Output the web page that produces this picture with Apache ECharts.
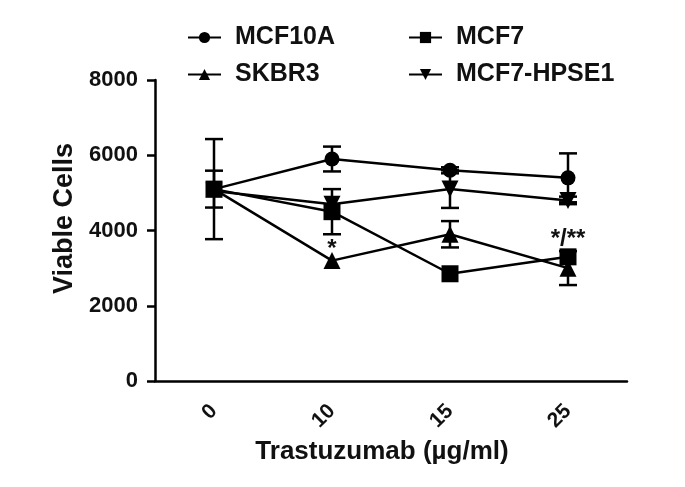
<!DOCTYPE html>
<html><head><meta charset="utf-8">
<script src="https://cdn.jsdelivr.net/npm/echarts@6/dist/echarts.min.js"></script>
<style>html,body{margin:0;padding:0;background:#fff}#c{width:685px;height:487px}</style>
</head><body><div id="c"></div>
<script>
const categories = ['0', '10', '15', '25'];
const mcf10a = [5100, 5900, 5600, 5400];
const mcf10aErr = [1330, 330, 80, 650];
const mcf7 = [5100, 4500, 2850, 3300];
const mcf7Err = [0, 600, 0, 0];
const skbr3 = [5100, 3200, 3900, 3000];
const skbr3Err = [490, 0, 350, 450];
const hpse1 = [5050, 4700, 5100, 4800];
const hpse1Err = [0, 0, 500, 100];
const annotations = [['10', 3500, '*'], ['25', 3770, '*/**']];
const yTicks = { min: 0, max: 8000, interval: 2000 };

const FONT = 'Liberation Sans, Arial, sans-serif';
const downTri = 'path://M0,0 L10,0 L5,9 Z';

function errSeries(name, vals, errs) {
  return {
    type: 'custom', name: name + '-err', silent: true, z: 1,
    data: vals.map((v, i) => [i, v, errs[i]]),
    renderItem: function (params, api) {
      const i = api.value(0), v = api.value(1), e = api.value(2);
      if (!e) return null;
      const top = api.coord([i, v + e]), bot = api.coord([i, v - e]);
      const hw = 9;
      const st = { stroke: '#000', lineWidth: 2.5 };
      return { type: 'group', children: [
        { type: 'line', shape: { x1: top[0], y1: top[1], x2: bot[0], y2: bot[1] }, style: st },
        { type: 'line', shape: { x1: top[0] - hw, y1: top[1], x2: top[0] + hw, y2: top[1] }, style: st },
        { type: 'line', shape: { x1: bot[0] - hw, y1: bot[1], x2: bot[0] + hw, y2: bot[1] }, style: st }
      ]};
    }
  };
}
function lineSeries(name, vals, symbol, size) {
  return {
    type: 'line', name: name, data: vals, symbol: symbol, symbolSize: size, z: 3,
    lineStyle: { color: '#000', width: 2.5 }, itemStyle: { color: '#000', borderWidth: 0 },
    emphasis: { disabled: true }
  };
}

const chart = echarts.init(document.getElementById('c'));
const legendText = { fontFamily: FONT, fontWeight: 'bold', fontSize: 25, color: '#111', padding: [0, 0, 0, 9] };
chart.setOption({
  animation: false,
  backgroundColor: '#fff',
  grid: { left: 155, top: 80, right: 58, bottom: 106 },
  legend: [
    { data: ['MCF10A', 'SKBR3'], orient: 'vertical', left: 182, top: 20, itemWidth: 33, itemHeight: 14, itemGap: 12, textStyle: legendText, selectedMode: false },
    { data: ['MCF7', 'MCF7-HPSE1'], orient: 'vertical', left: 403, top: 20, itemWidth: 33, itemHeight: 14, itemGap: 12, textStyle: legendText, selectedMode: false }
  ],
  xAxis: {
    type: 'category', data: categories, boundaryGap: true,
    name: 'Trastuzumab (\u00b5g/ml)', nameLocation: 'middle', nameGap: 58,
    nameTextStyle: { fontFamily: FONT, fontWeight: 'bold', fontSize: 26, color: '#111', padding: [0, 18, 0, 0] },
    axisLine: { lineStyle: { color: '#000', width: 2.5 } },
    axisTick: { alignWithLabel: true, length: 8, lineStyle: { color: '#000', width: 2.5 } },
    axisLabel: { rotate: 45, fontFamily: FONT, fontWeight: 'bold', fontSize: 21, color: '#111', margin: 27 }
  },
  yAxis: {
    type: 'value', min: yTicks.min, max: yTicks.max, interval: yTicks.interval,
    name: 'Viable Cells', nameLocation: 'middle', nameGap: 71, nameRotate: 90,
    nameTextStyle: { fontFamily: FONT, fontWeight: 'bold', fontSize: 27, color: '#111', padding: [0, 0, 0, 24] },
    splitLine: { show: false },
    axisLine: { show: true, lineStyle: { color: '#000', width: 2.5 } },
    axisTick: { show: true, length: 8, lineStyle: { color: '#000', width: 2.5 } },
    axisLabel: { formatter: v => String(v), fontFamily: FONT, fontWeight: 'bold', fontSize: 22, color: '#111', margin: 17 }
  },
  series: [
    errSeries('MCF10A', mcf10a, mcf10aErr),
    errSeries('MCF7', mcf7, mcf7Err),
    errSeries('SKBR3', skbr3, skbr3Err),
    errSeries('MCF7-HPSE1', hpse1, hpse1Err),
    lineSeries('MCF10A', mcf10a, 'circle', 15),
    lineSeries('MCF7', mcf7, 'rect', 17),
    lineSeries('SKBR3', skbr3, 'triangle', 17),
    lineSeries('MCF7-HPSE1', hpse1, downTri, 17),
    {
      type: 'scatter', name: 'annot', symbolSize: 0, z: 5, silent: true,
      itemStyle: { opacity: 1, color: '#111' },
      data: annotations.map(a => ({ value: [a[0], a[1]], label: { formatter: a[2] } })),
      label: { show: true, position: 'inside', fontFamily: FONT, fontWeight: 'bold', fontSize: 24, color: '#111', textBorderWidth: 0 }
    }
  ]
});
</script></body></html>
